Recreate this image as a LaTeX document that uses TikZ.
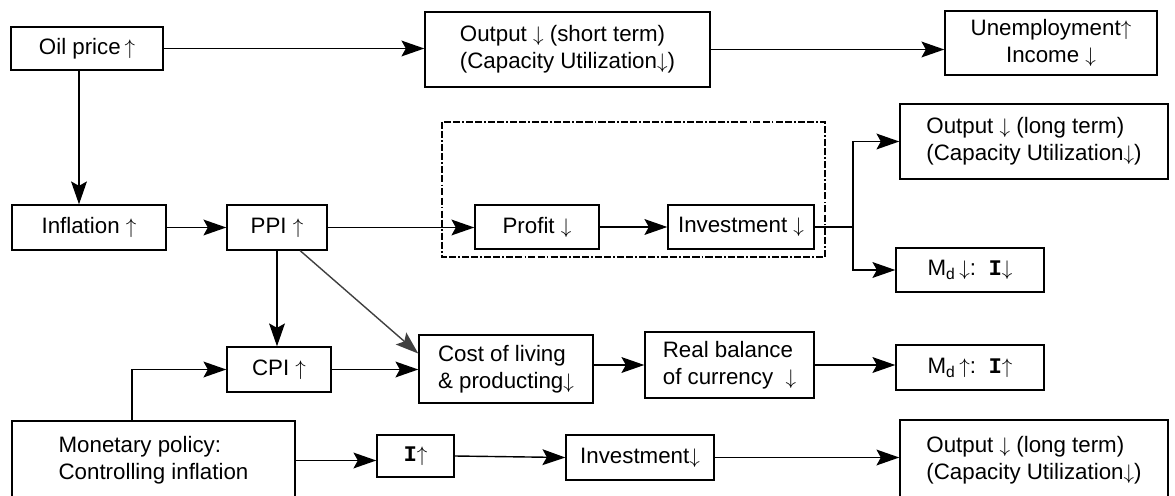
\documentclass[tikz,border=0pt]{standalone}
\usepackage{fontspec}
\setmainfont{Liberation Sans}
\newfontfamily\ifont{Liberation Mono}
\usetikzlibrary{arrows.meta}
\tikzset{
  effect/.style={draw, line width=0.8pt, inner sep=0pt, align=center,
    font=\fontsize{12.7}{15.4}\selectfont},
  effectl/.style={effect, align=left},
  flow/.style={-{Stealth[length=13pt, width=9pt, inset=2.5pt]}, line width=0.8pt},
  slant/.style={flow, draw=black!75},
  group/.style={draw, line width=0.7pt,
    dash pattern=on 4pt off 1.2pt on 4pt off 1.2pt on 1pt off 1.2pt}
}
\newcommand{\up}{$\uparrow$}
\newcommand{\dn}{$\downarrow$}
\newcommand{\rate}{{\ifont\bfseries I}}
% name, left, top, right, bottom (pixels), text
\newcommand{\effect}[7][effect]{%
  \node[#1, minimum width={(#5-#3)*0.02cm}, minimum height={(#6-#4)*0.02cm}]
    (#2) at ({(#3+#5)/2},{(#4+#6)/2}) {#7};%
}

\begin{document}
\begin{tikzpicture}[x=0.02cm, y=-0.02cm]
    \useasboundingbox (0,0) rectangle (1175,496);
    % top row
    \effect{oil}{11}{27}{163}{70}{Oil price\,\up}
    \effect[effectl]{outShort}{425}{12}{710}{87}{Output \dn{} (short term)\\(Capacity Utilization\dn)}
    \effect{unemp}{945}{11}{1157}{75}{Unemployment\up\\Income \dn}
    % second row
    \effect{infl}{12}{205}{166}{250}{Inflation \up}
    \effect{ppi}{227}{205}{327}{250}{PPI \up}
    \effect{profit}{475}{205}{599}{249}{Profit \dn}
    \effect{invest}{668}{205}{814}{249}{Investment \dn}
    \effect[effectl]{outLong}{900}{104}{1168}{179}{Output \dn{} (long term)\\(Capacity Utilization\dn)}
    \effect{mdDown}{896}{248}{1044}{292}{M\textsubscript{d}\,\dn:\ \ \rate\dn}
    \draw[group] (442,122) rectangle (825,257);
    % third row
    \effect{cpi}{227}{347}{331}{392}{CPI \up}
    \effect[effectl]{cost}{419}{335}{593}{403}{Cost of living\\\& producting\dn}
    \effect[effectl]{real}{645}{332}{814}{398}{Real balance\\of currency \ \dn}
    \effect{mdUp}{896}{345}{1044}{390}{M\textsubscript{d}\,\up:\ \ \rate\up}
    % bottom row
    \effect[effectl]{monetary}{12}{421}{295}{500}{Monetary policy:\\Controlling inflation}
    \effect{iUp}{377}{435}{454}{477}{\rate\up}
    \effect{investB}{566}{435}{714}{480}{Investment\dn}
    \effect[effectl]{outLongB}{900}{420}{1168}{500}{Output \dn{} (long term)\\(Capacity Utilization\dn)}

    \draw[flow] (oil.east) -- (oil.east -| outShort.west);
    \draw[flow] (outShort.east) -- (outShort.east -| unemp.west);
    \draw[flow] ([xshift=-0.16cm]oil.south) -- ([xshift=-0.16cm]oil.south |- infl.north);
    \draw[flow] (infl.east) -- (ppi.west);
    \draw[flow] (ppi.east) -- (ppi.east -| profit.west);
    \draw[flow] (profit.east) -- (invest.west);
    \coordinate (split) at (853,227);
    \draw[line width=0.8pt] (invest.east) -- (split);
    \draw[flow] (split) |- (outLong.west);
    \draw[flow] (split) |- (mdDown.west);
    \draw[flow] (ppi.south) -- (ppi.south |- cpi.north);
    \draw[slant] (ppi.-45) -- (cost.170);
    \draw[flow] (cpi.east) -- (cpi.east -| cost.west);
    \draw[flow] (real.west -| cost.east) -- (real.west);
    \draw[flow] (real.east) -- (real.east -| mdUp.west);
    \draw[flow] ([xshift=-0.43cm]monetary.north) |- (cpi.west);
    \draw[flow] (monetary.east) -- (monetary.east -| iUp.west);
    \draw[flow] (iUp.east) -- (investB.west);
    \draw[flow] (investB.east) -- (investB.east -| outLongB.west);
\end{tikzpicture}
\end{document}
